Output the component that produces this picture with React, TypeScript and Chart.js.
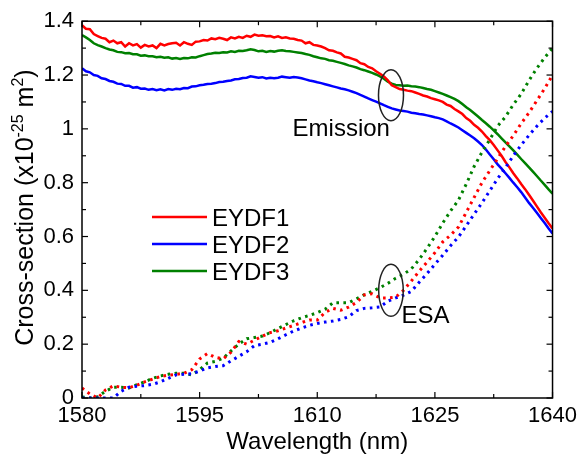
import React, { useEffect, useRef } from "react";
import { Chart, registerables } from "chart.js";

Chart.register(...registerables);

const FONT = '"Liberation Sans", Arial, Helvetica, sans-serif';

// sampling grids (nm)
const range = (a: number, b: number, s: number) => {
  const out: number[] = [];
  for (let i = 0; a + i * s <= b + 1e-9; i++) out.push(+(a + i * s).toFixed(2));
  return out;
};
const WL_EMISSION = range(1580, 1640, 0.5);
const WL_ESA = range(1580, 1640, 1);

const SERIES_NAMES = ["EYDF1", "EYDF2", "EYDF3"];
const SERIES_COLORS = ["#ff0000", "#0000ff", "#008000"];

// Emission cross-section (x1e-25 m^2), 0.5 nm steps
const EMISSION_EYDF1 = [
  1.385, 1.372, 1.37, 1.352, 1.345, 1.338, 1.335, 1.322, 1.328, 1.318,
  1.322, 1.306, 1.318, 1.31, 1.315, 1.302, 1.312, 1.306, 1.31, 1.3,
  1.316, 1.31, 1.315, 1.318, 1.32, 1.31, 1.322, 1.316, 1.312, 1.324,
  1.325, 1.33, 1.328, 1.336, 1.333, 1.338, 1.335, 1.33, 1.34, 1.336,
  1.342, 1.338, 1.346, 1.342, 1.35, 1.346, 1.348, 1.344, 1.345, 1.34,
  1.344, 1.338, 1.34, 1.336, 1.335, 1.33, 1.328, 1.318, 1.322, 1.312,
  1.31, 1.306, 1.3, 1.292, 1.29, 1.284, 1.28, 1.268, 1.265, 1.26,
  1.255, 1.244, 1.24, 1.23, 1.225, 1.214, 1.205, 1.195, 1.18, 1.162,
  1.155, 1.148, 1.145, 1.142, 1.14, 1.135, 1.13, 1.124, 1.12, 1.114,
  1.11, 1.106, 1.1, 1.09, 1.085, 1.074, 1.065, 1.055, 1.04, 1.03,
  1.015, 1.004, 0.99, 0.973, 0.958, 0.94, 0.92, 0.9, 0.877, 0.857,
  0.835, 0.816, 0.795, 0.776, 0.755, 0.734, 0.712, 0.69, 0.67, 0.649,
  0.63,
];
const EMISSION_EYDF2 = [
  1.225, 1.214, 1.21, 1.2, 1.197, 1.188, 1.185, 1.178, 1.175, 1.168,
  1.167, 1.16, 1.16, 1.153, 1.155, 1.149, 1.15, 1.145, 1.148, 1.144,
  1.147, 1.143, 1.148, 1.145, 1.149, 1.147, 1.152, 1.151, 1.157, 1.158,
  1.162, 1.164, 1.167, 1.168, 1.17, 1.174, 1.175, 1.178, 1.18, 1.184,
  1.185, 1.189, 1.19, 1.195, 1.193, 1.19, 1.192, 1.187, 1.19, 1.188,
  1.19, 1.194, 1.192, 1.19, 1.193, 1.191, 1.188, 1.184, 1.18, 1.177,
  1.173, 1.17, 1.166, 1.162, 1.158, 1.154, 1.15, 1.147, 1.143, 1.138,
  1.133, 1.126, 1.12, 1.113, 1.107, 1.101, 1.095, 1.088, 1.082, 1.076,
  1.072, 1.068, 1.066, 1.064, 1.06, 1.058, 1.055, 1.053, 1.05, 1.047,
  1.043, 1.04, 1.035, 1.028, 1.02, 1.013, 1.005, 0.995, 0.985, 0.975,
  0.965, 0.953, 0.94, 0.923, 0.905, 0.887, 0.868, 0.852, 0.835, 0.818,
  0.8, 0.783, 0.765, 0.745, 0.725, 0.707, 0.688, 0.669, 0.65, 0.63,
  0.611,
];
const EMISSION_EYDF3 = [
  1.348, 1.34, 1.33, 1.318, 1.311, 1.306, 1.3, 1.295, 1.292, 1.286,
  1.285, 1.281, 1.282, 1.277, 1.277, 1.272, 1.273, 1.27, 1.27, 1.266,
  1.268, 1.264, 1.266, 1.261, 1.263, 1.26, 1.263, 1.262, 1.266, 1.265,
  1.27, 1.274, 1.278, 1.28, 1.283, 1.282, 1.285, 1.284, 1.288, 1.286,
  1.29, 1.289, 1.292, 1.296, 1.293, 1.288, 1.29, 1.286, 1.289, 1.287,
  1.29, 1.292, 1.289, 1.288, 1.286, 1.284, 1.282, 1.278, 1.275, 1.27,
  1.266, 1.262, 1.26, 1.255, 1.253, 1.249, 1.245, 1.241, 1.236, 1.232,
  1.228, 1.222, 1.218, 1.213, 1.208, 1.202, 1.195, 1.186, 1.175, 1.168,
  1.163, 1.162, 1.16, 1.161, 1.158, 1.157, 1.155, 1.152, 1.148, 1.145,
  1.14, 1.135, 1.13, 1.124, 1.118, 1.111, 1.103, 1.092, 1.08, 1.07,
  1.058, 1.046, 1.033, 1.021, 1.008, 0.994, 0.98, 0.965, 0.95, 0.935,
  0.92, 0.904, 0.888, 0.873, 0.857, 0.841, 0.825, 0.808, 0.792, 0.775,
  0.759,
];

// ESA cross-section, 1 nm steps
const ESA_EYDF1 = [
  0.037, 0.015, 0.0, 0.03, 0.045, 0.04, 0.038, 0.048, 0.06, 0.07,
  0.08, 0.085, 0.088, 0.092, 0.105, 0.145, 0.165, 0.151, 0.145, 0.17,
  0.21, 0.2, 0.215, 0.23, 0.243, 0.25, 0.26, 0.27, 0.28, 0.29,
  0.29, 0.318, 0.333, 0.326, 0.338, 0.355, 0.383, 0.387, 0.372, 0.372,
  0.375, 0.4, 0.435, 0.471, 0.505, 0.54, 0.58, 0.605, 0.635, 0.69,
  0.745, 0.8, 0.845, 0.89, 0.935, 0.975, 1.02, 1.06, 1.105, 1.15,
  1.2,
];
const ESA_EYDF2 = [
  0.0, 0.0, 0.0, 0.0, 0.0, 0.025, 0.04, 0.044, 0.046, 0.051,
  0.06, 0.073, 0.086, 0.088, 0.09, 0.1, 0.112, 0.117, 0.12, 0.138,
  0.155, 0.172, 0.195, 0.2, 0.207, 0.22, 0.235, 0.249, 0.26, 0.27,
  0.277, 0.282, 0.286, 0.292, 0.302, 0.325, 0.333, 0.335, 0.338, 0.36,
  0.372, 0.382, 0.396, 0.43, 0.462, 0.497, 0.53, 0.566, 0.598, 0.64,
  0.683, 0.725, 0.77, 0.815, 0.856, 0.9, 0.94, 0.976, 1.01, 1.04,
  1.065,
];
const ESA_EYDF3 = [
  0.004, 0.0, 0.005, 0.025, 0.04, 0.04, 0.037, 0.05, 0.06, 0.073,
  0.082, 0.088, 0.092, 0.092, 0.086, 0.105, 0.13, 0.136, 0.148, 0.175,
  0.2, 0.22, 0.225, 0.23, 0.243, 0.258, 0.273, 0.287, 0.298, 0.307,
  0.317, 0.33, 0.354, 0.354, 0.354, 0.368, 0.384, 0.396, 0.41, 0.426,
  0.445, 0.46, 0.48, 0.515, 0.556, 0.6, 0.65, 0.695, 0.735, 0.795,
  0.86, 0.913, 0.96, 1.01, 1.045, 1.09, 1.13, 1.18, 1.225, 1.265,
  1.3,
];

const X_TICKS = [1580, 1595, 1610, 1625, 1640];
const Y_TICKS = [0, 0.2, 0.4, 0.6, 0.8, 1, 1.2, 1.4];

const toXY = (xs: number[], ys: number[]) => ys.map((y, i) => ({ x: xs[i], y }));

const EMISSION = [EMISSION_EYDF1, EMISSION_EYDF2, EMISSION_EYDF3];
const ESA = [ESA_EYDF1, ESA_EYDF2, ESA_EYDF3];

const decorPlugin = {
  id: "decor",
  afterDraw(chart: any) {
    const { ctx, chartArea: a, scales } = chart;
    const xs = scales.x;
    const ys = scales.y;
    ctx.save();
    // frame
    ctx.strokeStyle = "#000";
    ctx.lineWidth = 1.5;
    ctx.strokeRect(a.left, a.top, a.right - a.left, a.bottom - a.top);
    // inward ticks (major + minor) on all four sides
    ctx.lineWidth = 1.2;
    const tick = (x1: number, y1: number, x2: number, y2: number) => {
      ctx.beginPath();
      ctx.moveTo(x1, y1);
      ctx.lineTo(x2, y2);
      ctx.stroke();
    };
    const xv = X_TICKS;
    xv.forEach((v, i) => {
      const p = xs.getPixelForValue(v);
      tick(p, a.bottom, p, a.bottom - 6);
      tick(p, a.top, p, a.top + 6);
      if (i < xv.length - 1) {
        const m = xs.getPixelForValue((v + xv[i + 1]) / 2);
        tick(m, a.bottom, m, a.bottom - 4);
        tick(m, a.top, m, a.top + 4);
      }
    });
    const yv = Y_TICKS;
    yv.forEach((v, i) => {
      const p = ys.getPixelForValue(v);
      tick(a.left, p, a.left + 6, p);
      tick(a.right, p, a.right - 6, p);
      if (i < yv.length - 1) {
        const m = ys.getPixelForValue((v + yv[i + 1]) / 2);
        tick(a.left, m, a.left + 4, m);
        tick(a.right, m, a.right - 4, m);
      }
    });

    // ellipses marking the curve groups
    ctx.strokeStyle = "#222";
    ctx.lineWidth = 1.5;
    const ell = (xv: number, yv: number, rx: number, ry: number) => {
      ctx.beginPath();
      ctx.ellipse(xs.getPixelForValue(xv), ys.getPixelForValue(yv), rx, ry, 0, 0, Math.PI * 2);
      ctx.stroke();
    };
    ell(1619.4, 1.125, 12.5, 25.5);
    ell(1619.4, 0.40, 12.3, 26);

    // annotation labels
    ctx.fillStyle = "#000";
    ctx.font = `24px ${FONT}`;
    ctx.textAlign = "left";
    ctx.textBaseline = "middle";
    ctx.fillText("Emission", xs.getPixelForValue(1606.85), ys.getPixelForValue(0.998));
    ctx.fillText("ESA", xs.getPixelForValue(1620.75), ys.getPixelForValue(0.302));

    // legend
    SERIES_NAMES.forEach((name, i) => {
      const y = 217 + i * 27;
      ctx.strokeStyle = SERIES_COLORS[i];
      ctx.lineWidth = 2.5;
      ctx.beginPath();
      ctx.moveTo(152, y);
      ctx.lineTo(207, y);
      ctx.stroke();
      ctx.fillStyle = "#000";
      ctx.fillText(name, 212, y + 2);
    });

    // y-axis title with superscripts
    const parts = [
      { t: "Cross-section (x10", sup: false },
      { t: "-25", sup: true },
      { t: " m", sup: false },
      { t: "2", sup: true },
      { t: ")", sup: false },
    ];
    const mainFont = `25px ${FONT}`;
    const supFont = `16px ${FONT}`;
    let total = 0;
    parts.forEach((p) => {
      ctx.font = p.sup ? supFont : mainFont;
      total += ctx.measureText(p.t).width;
    });
    ctx.translate(33, (a.top + a.bottom) / 2 - 2);
    ctx.rotate(-Math.PI / 2);
    ctx.textBaseline = "alphabetic";
    let x = -total / 2;
    parts.forEach((p) => {
      ctx.font = p.sup ? supFont : mainFont;
      ctx.fillText(p.t, x, p.sup ? -10 : 0);
      x += ctx.measureText(p.t).width;
    });
    ctx.restore();
  },
};

export default function App() {
  const ref = useRef<HTMLCanvasElement | null>(null);
  useEffect(() => {
    if (!ref.current) return;
    const datasets: any[] = [];
    ESA.forEach((vals, i) => {
      datasets.push({
        label: `${SERIES_NAMES[i]} ESA`,
        data: toXY(WL_ESA, vals),
        borderColor: SERIES_COLORS[i],
        borderWidth: 3,
        borderDash: [2.6, 4.4],
        borderCapStyle: "butt",
        pointRadius: 0,
        fill: false,
        tension: 0,
      });
    });
    EMISSION.forEach((vals, i) => {
      datasets.push({
        label: SERIES_NAMES[i],
        data: toXY(WL_EMISSION, vals),
        borderColor: SERIES_COLORS[i],
        borderWidth: 2.5,
        pointRadius: 0,
        fill: false,
        tension: 0,
      });
    });
    const chart = new Chart(ref.current, {
      type: "line",
      data: { datasets },
      options: {
        responsive: false,
        animation: false,
        devicePixelRatio: 1,
        layout: { padding: { left: 0, top: 18, right: 28, bottom: 0 } },
        plugins: { legend: { display: false }, tooltip: { enabled: false } },
        scales: {
          x: {
            type: "linear",
            min: 1580,
            max: 1640,
            afterFit: (s: any) => {
              s.height = 59;
            },
            afterBuildTicks: (s: any) => {
              s.ticks = X_TICKS.map((v) => ({ value: v }));
            },
            grid: { display: false, drawTicks: false },
            border: { display: false },
            ticks: {
              padding: 5,
              color: "#000",
              maxRotation: 0,
              autoSkip: false,
              font: { family: FONT, size: 22 },
              callback: (v: any) => String(v),
            },
            title: {
              display: true,
              text: "Wavelength (nm)",
              color: "#000",
              font: { family: FONT, size: 24 },
              padding: 0,
            },
          },
          y: {
            type: "linear",
            min: 0,
            max: 1.4,
            afterFit: (s: any) => {
              s.width = 82;
            },
            afterBuildTicks: (s: any) => {
              s.ticks = Y_TICKS.map((v) => ({ value: v }));
            },
            grid: { display: false, drawTicks: false },
            border: { display: false },
            ticks: {
              padding: 8,
              color: "#000",
              font: { family: FONT, size: 22 },
              callback: (v: any) => String(Math.round(Number(v) * 10) / 10),
            },
          },
        },
      } as any,
      plugins: [decorPlugin],
    });
    return () => chart.destroy();
  }, []);
  return (
    <div style={{ position: "absolute", left: 0, top: 0, width: 582, height: 457, background: "#fff" }}>
      <canvas ref={ref} width={582} height={457} style={{ width: "582px", height: "457px" }} />
    </div>
  );
}
